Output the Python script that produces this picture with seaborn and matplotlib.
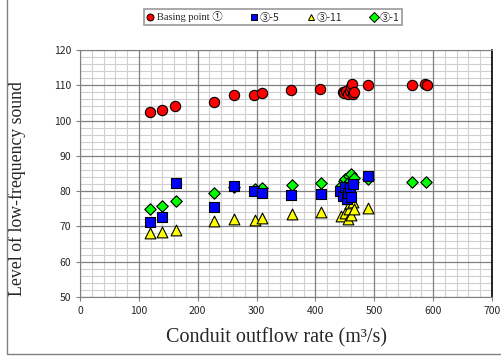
import pandas as pd
import numpy as np
import matplotlib
matplotlib.use("Agg")
import matplotlib.pyplot as plt
import seaborn as sns
from matplotlib.ticker import MultipleLocator
from matplotlib.lines import Line2D
from matplotlib.patches import Rectangle

# flow rate / sound level for each point
basing_x = [119, 139, 162, 227, 261, 296, 310, 359, 408, 446, 449, 452, 455, 458, 460, 462, 463, 465, 490, 564, 587, 589]
basing_y = [102.4, 102.9, 104.2, 105.4, 107.3, 107.2, 107.8, 108.6, 109.0, 108.0, 107.8, 108.3, 107.6, 108.5, 109.6, 110.3, 107.5, 108.1, 110.1, 110.0, 110.3, 110.0]

p35_x = [119, 139, 163, 227, 261, 296, 310, 359, 409, 442, 446, 450, 453, 456, 459, 461, 464, 490]
p35_y = [71.2, 72.6, 82.2, 75.6, 81.5, 79.9, 79.4, 78.9, 79.3, 80.0, 78.5, 81.2, 77.9, 79.6, 80.8, 78.3, 82.0, 84.3]

p311_x = [119, 140, 163, 227, 261, 297, 310, 360, 409, 444, 450, 455, 457, 459, 461, 463, 465, 490]
p311_y = [68.0, 68.4, 69.0, 71.5, 72.2, 71.9, 72.4, 73.4, 74.0, 73.0, 73.8, 72.0, 75.0, 76.5, 73.2, 77.0, 74.8, 75.2]

p31_x = [119, 140, 163, 227, 261, 297, 310, 360, 409, 444, 448, 451, 454, 457, 459, 461, 463, 466, 490, 564, 588]
p31_y = [74.9, 75.8, 77.1, 79.6, 81.1, 80.5, 81.0, 81.7, 82.2, 81.5, 82.8, 83.5, 82.0, 84.2, 83.0, 84.8, 82.5, 83.8, 83.3, 82.6, 82.6]

names = ["Basing point \u2460", "\u2462-5", "\u2462-11", "\u2462-1"]
colors = ["#ff0000", "#0000ff", "#ffff00", "#00ff00"]
markers = ["o", "s", "^", "D"]
sizes = [55, 50, 60, 34]

df = pd.concat([
    pd.DataFrame({"x": basing_x, "y": basing_y, "series": names[0]}),
    pd.DataFrame({"x": p35_x, "y": p35_y, "series": names[1]}),
    pd.DataFrame({"x": p311_x, "y": p311_y, "series": names[2]}),
    pd.DataFrame({"x": p31_x, "y": p31_y, "series": names[3]}),
])

sns.set_style("white")
plt.rcParams["font.family"] = ["DejaVu Sans", "Noto Sans CJK JP"]

fig = plt.figure(figsize=(5.02, 3.56), dpi=100)
ax = fig.add_axes([80 / 502, 1 - 297 / 356, 412 / 502, 247 / 356])

# draw in reverse order so the red points sit on top like the original
for name, col, mk, sz in reversed(list(zip(names, colors, markers, sizes))):
    sns.scatterplot(data=df[df["series"] == name], x="x", y="y", color=col,
                    marker=mk, s=sz, edgecolor="black", linewidth=0.8,
                    ax=ax, legend=False, zorder=3)

ax.set_xlim(0, 700)
ax.set_ylim(50, 120)
ax.xaxis.set_major_locator(MultipleLocator(100))
ax.xaxis.set_minor_locator(MultipleLocator(20))
ax.yaxis.set_major_locator(MultipleLocator(10))
ax.yaxis.set_minor_locator(MultipleLocator(2))
ax.grid(which="minor", color="#d0d0d0", linewidth=0.8)
ax.set_axisbelow(True)
# major grid drawn above the minor one so it isn't broken up
for xv in ax.get_xticks():
    ax.axvline(xv, color="#808080", linewidth=0.9, zorder=1)
for yv in ax.get_yticks():
    ax.axhline(yv, color="#808080", linewidth=0.9, zorder=1)
ax.set_xlim(0, 700)
ax.set_ylim(50, 120)

for s in ["left", "bottom", "top"]:
    ax.spines[s].set_color("#808080")
ax.spines["right"].set_color("black")
ax.spines["right"].set_linewidth(1.2)

ax.tick_params(axis="both", which="major", labelsize=7.5, length=3, color="#808080",
               direction="out", left=True, bottom=True)
ax.tick_params(which="minor", length=0)
for lab in ax.get_xticklabels() + ax.get_yticklabels():
    lab.set_family(["Noto Sans CJK JP", "DejaVu Sans"])

ax.set_xlabel("Conduit outflow rate (m\u00b3/s)", family="Liberation Serif", fontsize=14.5)
ax.xaxis.set_label_coords(0.478, -0.125)
ax.set_ylabel("Level of low-frequency sound", family="Liberation Serif", fontsize=12.8)
ax.yaxis.set_label_coords(-0.13, 0.44)

handles = [Line2D([], [], linestyle="none", marker=m, markerfacecolor=c, markeredgecolor="black",
                  markeredgewidth=0.7, markersize=5) for c, m in zip(colors, markers)]
leg = fig.legend(handles, names, loc="center", bbox_to_anchor=(273 / 502, 1 - 17 / 356),
                 ncol=4, frameon=True, fontsize=7.5, handlelength=0.8, handletextpad=0.2,
                 columnspacing=2.6, borderpad=0.25, fancybox=False)
leg.get_frame().set_edgecolor("#808080")
leg.get_frame().set_linewidth(1.2)
for i, t in enumerate(leg.get_texts()):
    if i == 0:
        t.set_family(["Liberation Serif", "Noto Sans CJK JP"])
    else:
        t.set_family(["Noto Sans CJK JP", "DejaVu Sans"])

# outer chart frame (left and bottom edges visible)
fig.patches.append(Rectangle((7 / 502, 1 - 354 / 356), 1.2, 1.2, transform=fig.transFigure,
                             fill=False, edgecolor="#808080", linewidth=1.0))

fig.savefig("out.png", dpi=100)
